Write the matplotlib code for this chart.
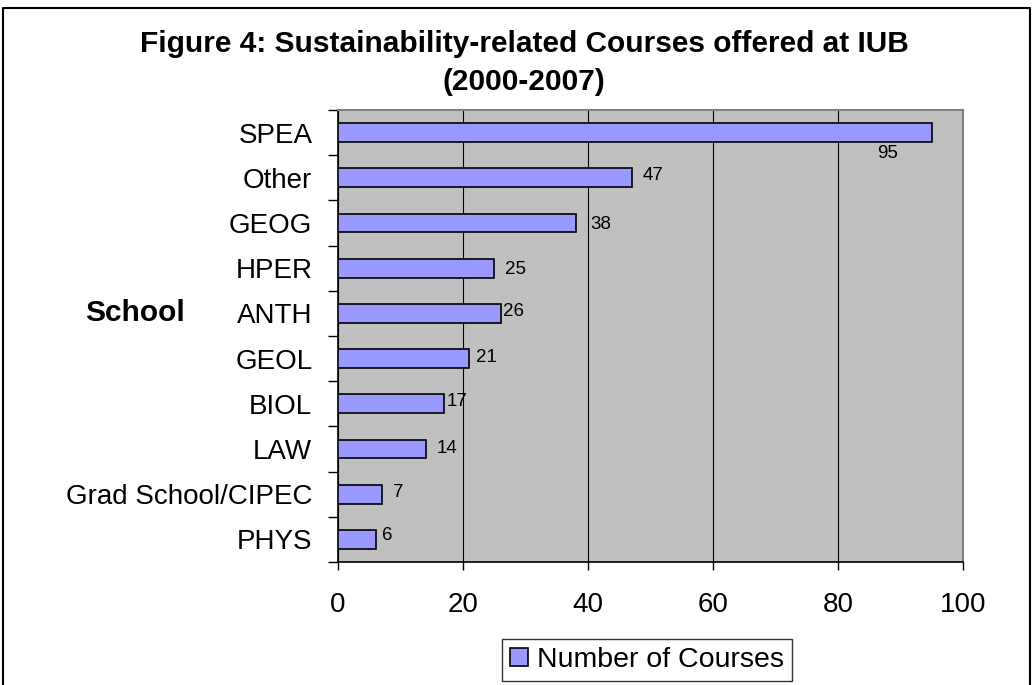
import matplotlib.pyplot as plt
from matplotlib.lines import Line2D
import numpy as np

plt.rcParams['font.family'] = ['Liberation Sans', 'DejaVu Sans']

# data (top to bottom as shown)
schools = ["SPEA", "Other", "GEOG", "HPER", "ANTH", "GEOL", "BIOL", "LAW",
           "Grad School/CIPEC", "PHYS"]
courses = [95, 47, 38, 25, 26, 21, 17, 14, 7, 6]

# label nudges in points (Excel put them a bit unevenly)
label_dx = [-31.5, 8, 11, 8, 1.8, 5, 1.5, 8, 8, 5]
label_dy = [-9, 2, -1, -1, 1.5, 1, 2, 0, 1, 3]

W, H = 1032, 685
fig = plt.figure(figsize=(W / 100, H / 100), dpi=100)
ax = fig.add_axes([338 / W, 1 - 562 / H, (963 - 338) / W, (562 - 110) / H])
ax.set_facecolor("#C0C0C0")

y = np.arange(len(schools))
bars = ax.barh(y, courses, height=0.42, color="#9999FF", edgecolor="black",
               linewidth=1.2, label="Number of Courses", zorder=3)

for i, v in enumerate(courses):
    ha = "center" if i == 0 else "left"
    va = "top" if i == 0 else "center"
    ax.annotate(str(v), (v, i), xytext=(label_dx[i], label_dy[i]),
                textcoords="offset points", ha=ha, va=va, fontsize=13.5, zorder=4)

ax.set_xlim(0, 100)
ax.set_ylim(len(schools) - 0.5, -0.5)
ax.set_xticks([0, 20, 40, 60, 80, 100])
ax.tick_params(axis="x", direction="out", length=6, width=1, pad=15.5, labelsize=20)

# category boundaries get tick marks, names sit between them
ax.set_yticks(np.arange(len(schools) + 1) - 0.5)
ax.set_yticklabels([])
ax.tick_params(axis="y", which="major", direction="out", length=7.5, width=1)
ax.set_yticks(y, minor=True)
ax.set_yticklabels(schools, minor=True)
ax.tick_params(axis="y", which="minor", length=0, pad=18.5, labelsize=20)

ax.grid(axis="x", color="black", linewidth=0.8, zorder=1)
ax.set_axisbelow(True)
for s in ["top", "right"]:
    ax.spines[s].set_color("#808080")
    ax.spines[s].set_linewidth(1.5)
for s in ["left", "bottom"]:
    ax.spines[s].set_linewidth(1.2)

fig.text(135 / W, 1 - 313 / H, "School", ha="center", va="center",
         fontsize=21.5, fontweight="bold")
fig.text(524 / W, 1 - 52 / H,
         "Figure 4: Sustainability-related Courses offered at IUB",
         ha="center", va="baseline", fontsize=21.5, fontweight="bold")
fig.text(524 / W, 1 - 90 / H, "(2000-2007)",
         ha="center", va="baseline", fontsize=21.5, fontweight="bold")

leg = fig.legend(handles=[bars], loc="center",
                 bbox_to_anchor=(647 / W, 1 - 660 / H),
                 bbox_transform=fig.transFigure, fontsize=20.5, frameon=True,
                 fancybox=False, edgecolor="black", handlelength=0.62,
                 handleheight=0.62, handletextpad=0.3, borderpad=0.28,
                 borderaxespad=0)
leg.get_frame().set_linewidth(1.0)

# outer chart border (bottom edge is cut off in the original)
x0, x1, yt = 3 / W, 1030 / W, 1 - 8 / H
fig.add_artist(Line2D([x0, x0, x1, x1], [0, yt, yt, 0],
                      transform=fig.transFigure, color="black", linewidth=1.5))

fig.savefig("out.png", dpi=100)
